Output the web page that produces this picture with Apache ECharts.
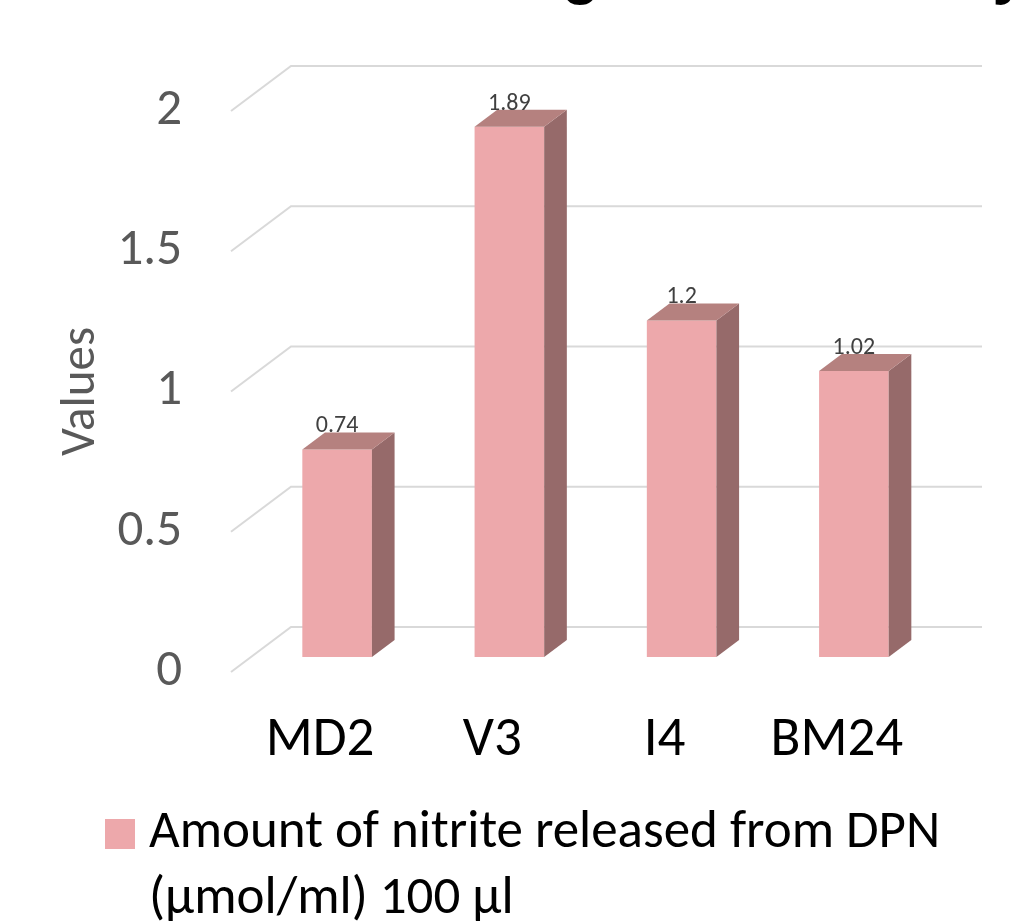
<!DOCTYPE html>
<html>
<head>
<meta charset="utf-8">
<script src="https://cdn.jsdelivr.net/npm/echarts@6/dist/echarts.min.js"></script>
<style>html,body{margin:0;padding:0;background:#fff;}#c{width:1036px;height:921px;}</style>
</head>
<body>
<div id="c"></div>
<script>
const categories = ['MD2', 'V3', 'I4', 'BM24'];
const values = [0.74, 1.89, 1.2, 1.02];
const yTicks = [0, 0.5, 1, 1.5, 2];
const seriesName = 'Amount of nitrite released from DPN (µmol/ml) 100 µl';
const yAxisName = 'Values';
const titleText = 'Nitrite Releasing Strain Activity';

const FONT = "Carlito, Calibri, 'Noto Sans', 'Open Sans', sans-serif";
const FRONT = '#EDA8AB', TOP = '#B5817F', SIDE = '#966A6A';
// depth geometry (pixels)
const K = 60 / 45;      // x shift per y-depth pixel
const WALL = 45;        // floor depth
const D1 = 15, DD = 17; // bar front depth, bar depth

const chart = echarts.init(document.getElementById('c'));
chart.setOption({
  animation: false,
  backgroundColor: '#fff',
  graphic: [{
    type: 'text', silent: true,
    style: { text: titleText, x: 118, y: 6, verticalAlign: 'bottom', fontSize: 61, fontWeight: 'bold', fontFamily: "'Liberation Sans', Arial, sans-serif", fill: '#000' }
  }],
  grid: { left: 231, right: 116, top: 111, bottom: 249 },
  legend: {
    data: [seriesName], left: 100, top: 730, icon: 'rect', itemWidth: 30, itemHeight: 30,
    formatter: n => '\n' + n.replace(' (', '\n('),
    textStyle: { fontSize: 53, fontFamily: FONT, color: '#000', lineHeight: 66, padding: [0, 0, 0, 9] }
  },
  xAxis: {
    type: 'category', data: categories,
    axisLine: { show: false }, axisTick: { show: false },
    axisLabel: { interval: 0, fontSize: 55, fontFamily: FONT, color: '#000', margin: 42, padding: [0, 0, 0, 6] }
  },
  yAxis: {
    type: 'value', min: 0, max: 2, interval: 0.5,
    name: yAxisName, nameLocation: 'middle', nameRotate: 90, nameGap: 125,
    nameTextStyle: { fontSize: 49, fontFamily: FONT, color: '#595959' },
    axisLine: { show: false }, axisTick: { show: false }, splitLine: { show: false },
    axisLabel: { fontSize: 51, fontFamily: FONT, color: '#595959', margin: 49, padding: [18, 0, 0, 0] }
  },
  series: [
    {
      type: 'custom', name: 'grid', silent: true, z: 1,
      data: yTicks.map(v => [0, v]),
      renderItem: (params, api) => {
        const cs = params.coordSys;
        const y = api.coord([0, api.value(1)])[1];
        return {
          type: 'polyline',
          shape: { points: [[cs.x, y], [cs.x + WALL * K, y - WALL], [cs.x + WALL * K + cs.width + 2, y - WALL]] },
          style: { stroke: '#D9D9D9', lineWidth: 2, fill: null }
        };
      }
    },
    {
      type: 'custom', name: seriesName, z: 2,
      itemStyle: { color: FRONT },
      data: values.map((v, i) => [i, v]),
      renderItem: (params, api) => {
        const p = api.coord([api.value(0), api.value(1)]);
        const p0 = api.coord([api.value(0), 0]);
        const w = api.size([1, 0])[0] * 0.404;
        const xl = p[0] - w / 2 + D1 * K, xr = xl + w;
        const top = p[1] - D1, bot = p0[1] - D1;
        const dk = DD * K;
        return {
          type: 'group',
          children: [
            { type: 'rect', shape: { x: xl, y: top, width: w, height: bot - top }, style: { fill: FRONT } },
            { type: 'polygon', shape: { points: [[xr, top], [xr + dk, top - DD], [xr + dk, bot - DD], [xr, bot]] }, style: { fill: SIDE } },
            { type: 'polygon', shape: { points: [[xl, top], [xl + dk, top - DD], [xr + dk, top - DD], [xr, top]] }, style: { fill: TOP } },
            { type: 'text', style: { text: String(api.value(1)), x: xl + w / 2, y: top - DD + 6, align: 'center', verticalAlign: 'bottom', fontSize: 24, fontFamily: FONT, fill: '#404040' } }
          ]
        };
      }
    }
  ]
});
</script>
</body>
</html>
